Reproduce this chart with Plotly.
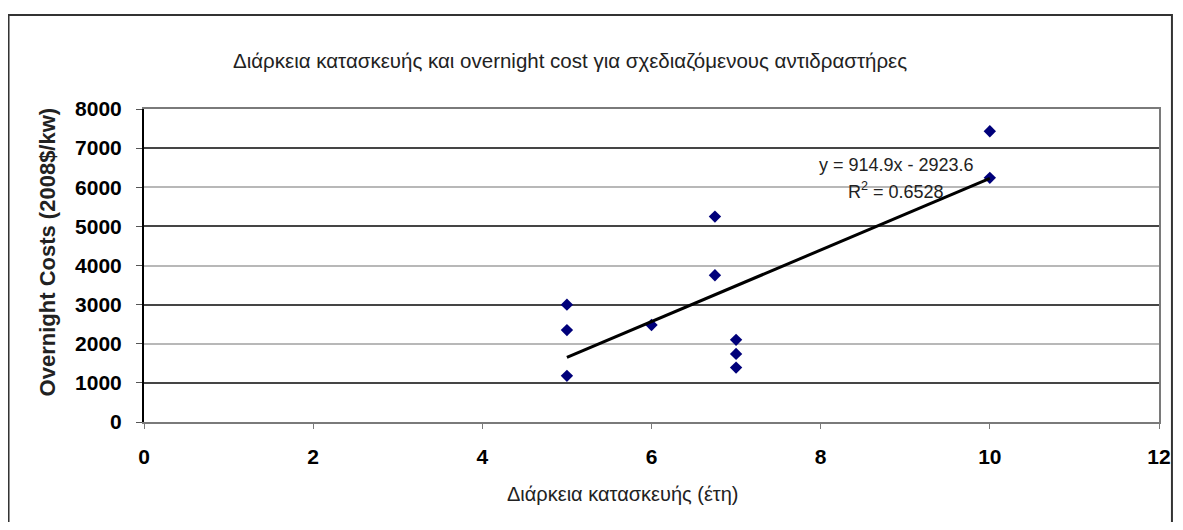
import plotly.graph_objects as go

# ---- data ----
duration_years = [5, 5, 5, 6, 6.75, 6.75, 7, 7, 7, 10, 10]
overnight_cost = [3000, 2350, 1180, 2480, 5250, 3750, 2100, 1740, 1390, 6240, 7430]
trend_slope = 914.9
trend_intercept = -2923.6
trend_r2 = 0.6528
trend_x = [5, 10]
trend_y = [trend_slope * v + trend_intercept for v in trend_x]

x_ticks = [0, 2, 4, 6, 8, 10, 12]
y_ticks = [0, 1000, 2000, 3000, 4000, 5000, 6000, 7000, 8000]

title_text = "Διάρκεια κατασκευής και overnight cost για σχεδιαζόμενους αντιδραστήρες"
x_title = "Διάρκεια κατασκευής (έτη)"
y_title = "Overnight Costs (2008$/kw)"

# ---- layout geometry (page pixels; the page body has an 8px margin) ----
OFF = 8
W, H = 1183 - OFF, 530 - 2 * OFF
PLOT_L, PLOT_R, PLOT_T, PLOT_B = 144, 1163, 109, 422   # page px
L = PLOT_L - OFF
T = PLOT_T - OFF
R = W - (PLOT_R - OFF)
B = H - (PLOT_B - OFF)
PW, PH = W - L - R, H - T - B

def px_x(p):
    return (p - OFF - L) / PW

def px_y(p):
    return (H - B - (p - OFF)) / PH

FONT = "Liberation Sans, Arial, sans-serif"

fig = go.Figure()
fig.add_trace(go.Scatter(
    x=duration_years, y=overnight_cost, mode="markers",
    marker=dict(symbol="diamond", size=9.5, color="#00007a"),
    showlegend=False, hoverinfo="x+y"))
fig.add_trace(go.Scatter(
    x=trend_x, y=trend_y, mode="lines",
    line=dict(color="black", width=3),
    showlegend=False, hoverinfo="skip"))

# grid overlays (light on even, dark on odd thousands)
fig.add_trace(go.Scatter(x=[None], y=[None], yaxis="y2", showlegend=False, hoverinfo="skip"))
fig.add_trace(go.Scatter(x=[None], y=[None], yaxis="y3", showlegend=False, hoverinfo="skip"))

tickfont = dict(family=FONT, size=21, color="black", weight="bold")

fig.update_layout(
    width=W, height=H,
    margin=dict(l=L, r=R, t=T, b=B),
    paper_bgcolor="white", plot_bgcolor="white",
    font=dict(family=FONT, color="#222"),
    xaxis=dict(range=[0, 12], tickvals=x_ticks, showgrid=False, zeroline=False,
               showline=True, linecolor="#7a7a7a", linewidth=2, mirror=True,
               ticks="outside", ticklen=5, tickcolor="#7a7a7a", tickwidth=1,
               tickfont=tickfont, ticklabelstandoff=10),
    yaxis=dict(range=[0, 8000], tickvals=y_ticks, showgrid=False, zeroline=False,
               showline=True, linecolor="black", linewidth=2,
               ticks="outside", ticklen=6, tickcolor="#555", tickwidth=1,
               tickfont=tickfont, ticklabelstandoff=10),
    yaxis2=dict(range=[0, 8000], overlaying="y", tick0=0, dtick=2000,
                showgrid=True, gridcolor="#b8b8b8", gridwidth=2,
                showticklabels=False, zeroline=False, ticks=""),
    yaxis3=dict(range=[0, 8000], overlaying="y", side="right", tick0=1000, dtick=2000,
                showgrid=True, gridcolor="#454545", gridwidth=2,
                showline=True, linecolor="#7a7a7a", linewidth=2,
                showticklabels=False, zeroline=False, ticks=""),
    annotations=[
        dict(text=title_text, xref="paper", yref="paper", x=px_x(572), y=px_y(60),
             xanchor="center", yanchor="middle", showarrow=False,
             font=dict(family=FONT, size=20.5, color="#222")),
        dict(text=x_title, xref="paper", yref="paper", x=px_x(625), y=px_y(494),
             xanchor="center", yanchor="middle", showarrow=False,
             font=dict(family=FONT, size=20, color="#222")),
        dict(text=y_title, xref="paper", yref="paper", x=px_x(47), y=px_y(252),
             xanchor="center", yanchor="middle", showarrow=False, textangle=-90,
             font=dict(family=FONT, size=22, color="#222", weight="bold")),
        dict(text=f"y = {trend_slope}x - {abs(trend_intercept)}", xref="paper", yref="paper",
             x=px_x(899), y=px_y(165), xanchor="center", yanchor="middle", showarrow=False,
             font=dict(family=FONT, size=18, color="#222")),
        dict(text=f"R<sup>2</sup> = {trend_r2}", xref="paper", yref="paper",
             x=px_x(899), y=px_y(190), xanchor="center", yanchor="middle", showarrow=False,
             font=dict(family=FONT, size=18, color="#222")),
    ],
    shapes=[
        dict(type="rect", xref="paper", yref="paper",
             x0=px_x(8), x1=px_x(1176), y0=px_y(545), y1=px_y(15),
             line=dict(color="#333", width=2), layer="below"),
    ],
)

fig.write_html("out.html")
